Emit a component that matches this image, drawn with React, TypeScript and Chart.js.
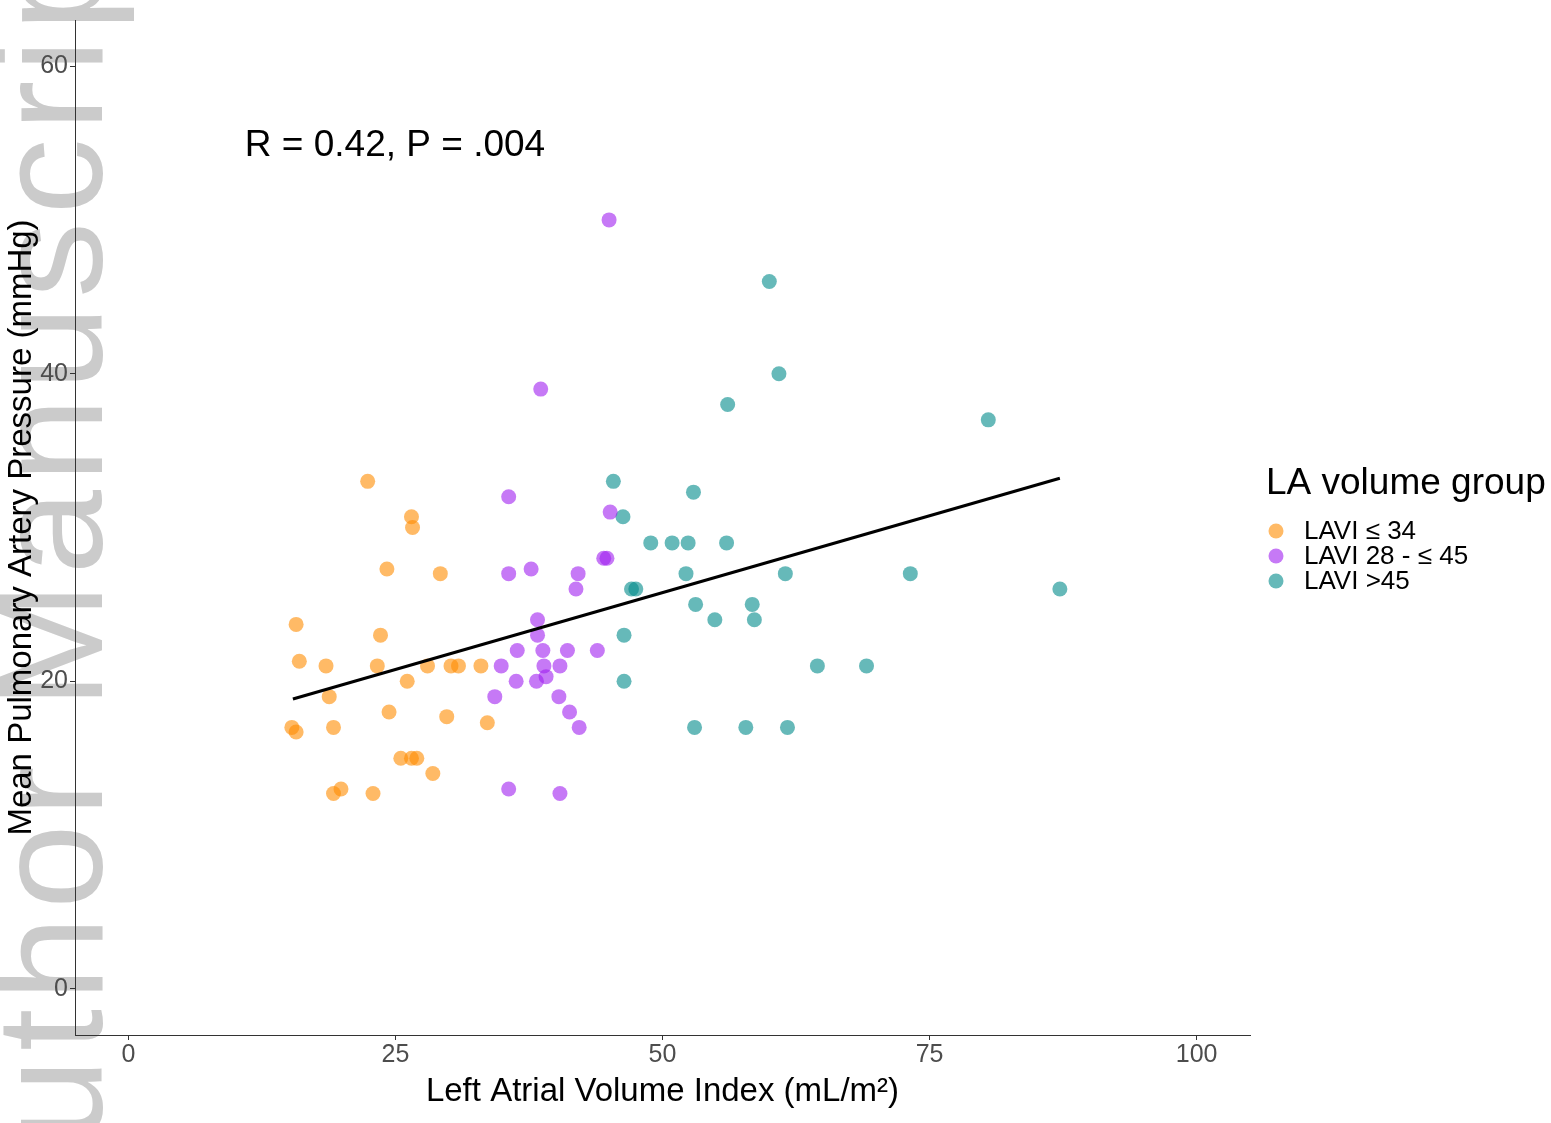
import React, { useEffect, useRef } from 'react';
import { Chart, registerables } from 'chart.js';

Chart.register(...registerables);

// ---------- data ----------
const groupLabels = ['LAVI ≤ 34', 'LAVI 28 - ≤ 45', 'LAVI >45'];

const orangeX = [22.4, 26.5, 26.6, 24.2, 29.2, 15.7, 23.6, 16.0, 18.5, 23.3, 28.0, 30.2, 30.9, 33.0, 26.1, 18.8, 24.4, 29.8, 33.6, 15.3, 15.7, 19.2, 25.5, 26.5, 27.0, 28.5, 19.2, 19.9, 22.9];
const orangeY = [33.0, 30.7, 30.0, 27.3, 27.0, 23.7, 23.0, 21.3, 21.0, 21.0, 21.0, 21.0, 21.0, 21.0, 20.0, 19.0, 18.0, 17.7, 17.3, 17.0, 16.7, 17.0, 15.0, 15.0, 15.0, 14.0, 12.7, 13.0, 12.7];

const purpleX = [45.0, 38.6, 35.6, 45.1, 44.5, 44.8, 35.6, 37.7, 42.1, 41.9, 38.3, 38.3, 36.4, 38.8, 41.1, 43.9, 34.9, 38.9, 40.4, 36.3, 38.2, 39.1, 34.3, 40.3, 41.3, 42.2, 35.6, 40.4];
const purpleY = [50.0, 39.0, 32.0, 31.0, 28.0, 28.0, 27.0, 27.3, 27.0, 26.0, 24.0, 23.0, 22.0, 22.0, 22.0, 22.0, 21.0, 21.0, 21.0, 20.0, 20.0, 20.3, 19.0, 19.0, 18.0, 17.0, 13.0, 12.7];

const tealX = [60.0, 60.9, 56.1, 80.5, 45.4, 52.9, 46.3, 48.9, 50.9, 52.4, 56.0, 52.2, 61.5, 73.2, 47.1, 47.5, 87.2, 53.1, 58.4, 54.9, 58.6, 46.4, 64.5, 69.1, 46.4, 53.0, 57.8, 61.7];
const tealY = [46.0, 40.0, 38.0, 37.0, 33.0, 32.3, 30.7, 29.0, 29.0, 29.0, 29.0, 27.0, 27.0, 27.0, 26.0, 26.0, 26.0, 25.0, 25.0, 24.0, 24.0, 23.0, 21.0, 21.0, 20.0, 17.0, 17.0, 17.0];

const fitX = [15.4, 87.2];
const fitY = [18.85, 33.2];

const xTicks = [0, 25, 50, 75, 100];
const yTicks = [0, 20, 40, 60];

const annotationText = 'R = 0.42, P = .004';
const annotationX = 10.9;
const annotationY = 54.8;

const xTitle = 'Left Atrial Volume Index (mL/m²)';
const yTitle = 'Mean Pulmonary Artery Pressure (mmHg)';
const legendTitle = 'LA volume group';
const watermarkText = 'Author Manuscript';

// ---------- styles ----------
const FONT = '"Liberation Sans", Arial, Helvetica, sans-serif';
const groupColors = ['rgba(255,140,0,0.6)', 'rgba(160,32,240,0.6)', 'rgba(0,139,139,0.6)'];

const zip = (xs: number[], ys: number[]) => xs.map((x, i) => ({ x, y: ys[i] }));

const watermarkPlugin = {
  id: 'watermark',
  beforeDraw(chart: any) {
    const ctx = chart.ctx;
    ctx.save();
    ctx.translate(102, 1252);
    ctx.rotate(-Math.PI / 2);
    ctx.font = `152px ${FONT}`;
    try { (ctx as any).letterSpacing = '7.6px'; } catch (e) {}
    ctx.fillStyle = '#CBCBCB';
    ctx.textBaseline = 'alphabetic';
    ctx.textAlign = 'left';
    ctx.fillText(watermarkText, 0, 0);
    ctx.restore();
  },
};

const annotationPlugin = {
  id: 'annot',
  afterDatasetsDraw(chart: any) {
    const ctx = chart.ctx;
    const x = chart.scales.x.getPixelForValue(annotationX);
    const y = chart.scales.y.getPixelForValue(annotationY);
    ctx.save();
    ctx.font = `37px ${FONT}`;
    ctx.fillStyle = '#000';
    ctx.textAlign = 'left';
    ctx.textBaseline = 'middle';
    ctx.fillText(annotationText, x, y);
    ctx.restore();
  },
};

const legendPlugin = {
  id: 'customLegend',
  afterDraw(chart: any) {
    const ctx = chart.ctx;
    ctx.save();
    ctx.fillStyle = '#000';
    ctx.textAlign = 'left';
    ctx.textBaseline = 'middle';
    ctx.font = `37px ${FONT}`;
    ctx.fillText(legendTitle, 1266, 484);
    ctx.font = `26px ${FONT}`;
    groupLabels.forEach((lab, i) => {
      const cy = 531 + i * 25;
      ctx.beginPath();
      ctx.arc(1276, cy, 7.5, 0, Math.PI * 2);
      ctx.fillStyle = groupColors[i];
      ctx.fill();
      ctx.fillStyle = '#000';
      ctx.fillText(lab, 1304, cy + 1);
    });
    ctx.restore();
  },
};

export default function App() {
  const ref = useRef<HTMLCanvasElement>(null);

  useEffect(() => {
    const canvas = ref.current;
    if (!canvas) return;
    const pointDs = (label: string, xs: number[], ys: number[], color: string) => ({
      label,
      data: zip(xs, ys),
      backgroundColor: color,
      borderWidth: 0,
      pointRadius: 7.5,
      pointHoverRadius: 7.5,
      showLine: false,
    });
    const chart = new Chart(canvas, {
      type: 'scatter',
      data: {
        datasets: [
          {
            label: 'fit',
            data: zip(fitX, fitY),
            showLine: true,
            borderColor: '#000',
            borderWidth: 3,
            pointRadius: 0,
            pointHoverRadius: 0,
            fill: false,
          } as any,
          pointDs(groupLabels[0], orangeX, orangeY, groupColors[0]),
          pointDs(groupLabels[1], purpleX, purpleY, groupColors[1]),
          pointDs(groupLabels[2], tealX, tealY, groupColors[2]),
        ],
      },
      options: {
        animation: false,
        responsive: false,
        maintainAspectRatio: false,
        layout: { padding: { left: 0, top: 20, right: 301, bottom: 0 } },
        plugins: { legend: { display: false }, tooltip: { enabled: false } },
        scales: {
          x: {
            type: 'linear',
            min: -5,
            max: 105,
            afterBuildTicks: (s: any) => { s.ticks = xTicks.map((v) => ({ value: v })); },
            afterFit: (s: any) => { s.height = 88; },
            grid: { display: true, drawOnChartArea: false, drawTicks: true, tickLength: 5, color: '#333333', lineWidth: 1 },
            border: { display: true, color: '#333333', width: 1 },
            ticks: { color: '#4D4D4D', font: { family: FONT, size: 25 }, padding: 0, maxRotation: 0, autoSkip: false },
            title: { display: true, text: xTitle, color: '#000', font: { family: FONT, size: 33 }, padding: { top: 0, bottom: 11 } },
          },
          y: {
            type: 'linear',
            min: -3,
            max: 63,
            afterBuildTicks: (s: any) => { s.ticks = yTicks.map((v) => ({ value: v })); },
            afterFit: (s: any) => { s.width = 75; },
            grid: { display: true, drawOnChartArea: false, drawTicks: true, tickLength: 5, color: '#333333', lineWidth: 1 },
            border: { display: true, color: '#333333', width: 1 },
            ticks: { color: '#4D4D4D', font: { family: FONT, size: 25 }, padding: 2, autoSkip: false },
            title: { display: true, text: yTitle, color: '#000', font: { family: FONT, size: 33 }, padding: { top: 2, bottom: 0 } },
          },
        },
      },
      plugins: [watermarkPlugin, annotationPlugin, legendPlugin],
    } as any);
    return () => chart.destroy();
  }, []);

  return (
    <div style={{ position: 'absolute', left: 0, top: 0, width: 1551, height: 1123, background: '#fff' }}>
      <canvas ref={ref} width={1551} height={1123} style={{ display: 'block' }} />
    </div>
  );
}
